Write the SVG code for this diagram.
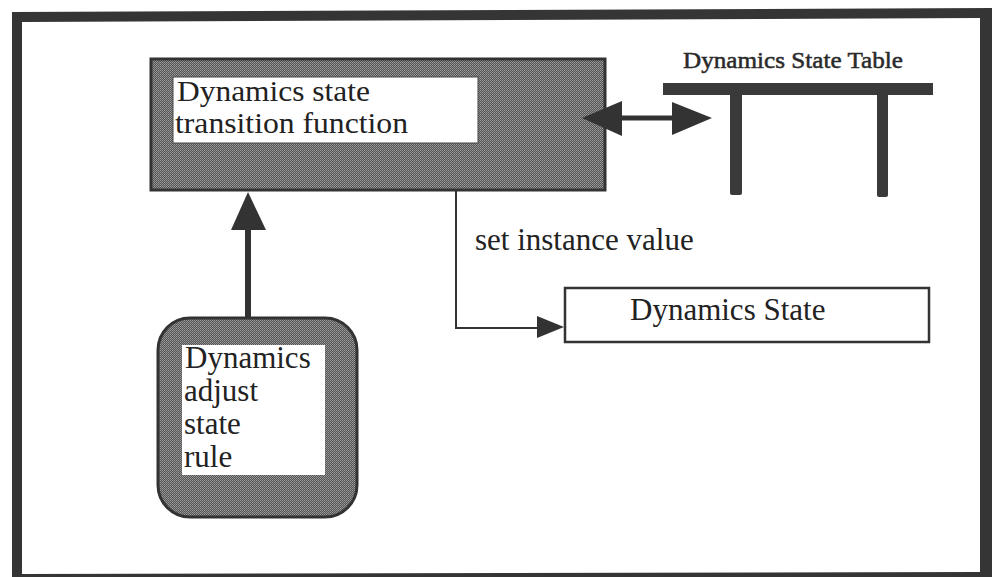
<svg xmlns="http://www.w3.org/2000/svg" width="992" height="577" viewBox="0 0 992 577">
  <defs>
    <!-- fine halftone fill used for the shaded boxes -->
    <pattern id="stipple" width="2" height="2" patternUnits="userSpaceOnUse">
      <rect width="2" height="2" fill="#555"/>
      <rect x="0" y="0" width="1" height="1" fill="#9c9c9c"/>
      <rect x="1" y="1" width="1" height="1" fill="#8c8c8c"/>
    </pattern>
  </defs>
  <style>
    .txt { font-family: "Liberation Serif", "Times New Roman", serif; font-size: 31px; fill: #222; }
    .tight { font-size: 30px; }
    .title { font-family: "Liberation Serif", "Times New Roman", serif; font-size: 23px; fill: #2a2a2a; stroke: #2a2a2a; stroke-width: 0.5; }
    .shade { fill: url(#stipple); stroke: #333; stroke-width: 3; }
    .label-bg { fill: #fff; }
    .bar { fill: #3a3a3a; }
    .thin { fill: none; stroke: #333; stroke-width: 2; }
    .thick { fill: none; stroke: #333; stroke-width: 6; }
    .head { fill: #333; }
  </style>

  <rect width="992" height="577" fill="#fff"/>

  <!-- outer frame -->
  <path id="frame" fill="#353535" fill-rule="evenodd"
        d="M12 12 L992 8 L992 577 L12 577 Z M22 22 L980 18 L980 572 L22 574 Z"/>

  <!-- transition function node -->
  <g id="node-transition">
    <rect class="shade" x="151" y="59" width="454" height="131"/>
    <rect class="label-bg" x="173" y="77" width="305" height="66" stroke="#444" stroke-width="1"/>
    <text class="txt tight" x="177" y="101" textLength="193" lengthAdjust="spacingAndGlyphs">Dynamics state</text>
    <text class="txt tight" x="175" y="133" textLength="233" lengthAdjust="spacingAndGlyphs">transition function</text>
  </g>

  <!-- state table node -->
  <g id="node-table">
    <text class="title" x="683" y="68" textLength="220" lengthAdjust="spacingAndGlyphs">Dynamics State Table</text>
    <rect class="bar" x="663" y="83" width="270" height="12"/>
    <rect class="bar" x="730" y="93" width="12" height="102" rx="2"/>
    <rect class="bar" x="877" y="93" width="11" height="104" rx="2"/>
  </g>

  <!-- adjust rule node -->
  <g id="node-rule">
    <rect class="shade" x="158" y="318" width="199" height="199" rx="32"/>
    <rect class="label-bg" x="182" y="345" width="143" height="130"/>
    <text class="txt" x="185" y="368">Dynamics</text>
    <text class="txt" x="184" y="401">adjust</text>
    <text class="txt" x="184" y="434">state</text>
    <text class="txt" x="184" y="467">rule</text>
  </g>

  <!-- dynamics state node -->
  <g id="node-state">
    <rect x="565" y="288" width="364" height="54" fill="#fff" stroke="#333" stroke-width="2.5"/>
    <text class="txt" x="630" y="320">Dynamics State</text>
  </g>

  <!-- connectors -->
  <g id="connectors">
    <!-- rule -> transition function -->
    <line class="thick" x1="248" y1="317" x2="248" y2="225"/>
    <polygon class="head" points="248,192 231,230 266,230"/>

    <!-- transition function <-> state table -->
    <line x1="618" y1="118" x2="676" y2="118" stroke="#333" stroke-width="5"/>
    <polygon class="head" points="582,118 622,101 622,136"/>
    <polygon class="head" points="712,118 672,102 672,135"/>

    <!-- set instance value -->
    <polyline class="thin" points="456,190 456,328 540,328"/>
    <polygon class="head" points="564,327 537,316 537,338"/>
  </g>

  <text class="txt" x="475" y="250">set instance value</text>
</svg>
